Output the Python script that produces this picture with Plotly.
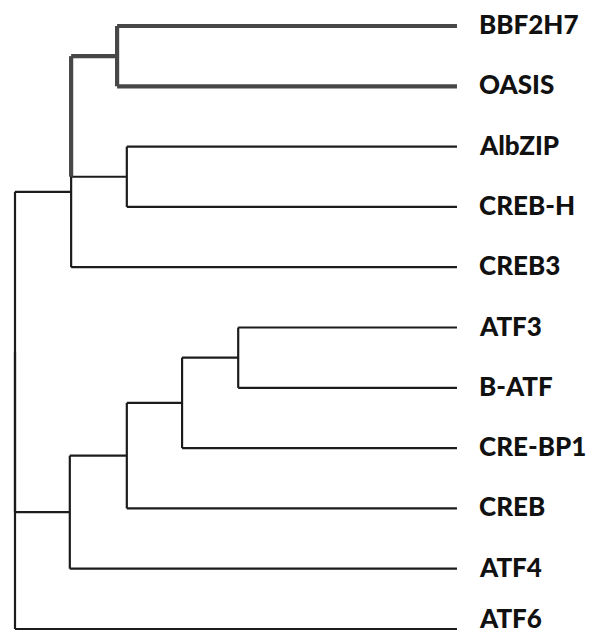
import plotly.graph_objects as go

# ---- data -------------------------------------------------------------
leaves = ["BBF2H7", "OASIS", "AlbZIP", "CREB-H", "CREB3",
          "ATF3", "B-ATF", "CRE-BP1", "CREB", "ATF4", "ATF6"]
leaf_height = 100.0

# merges: (node, left child, right child, merge height from root)
merge_nodes = ["n_bo", "n_ac", "n_top4", "n_top", "n_ab", "n_abc", "n_abcc", "n_atf", "n_in", "n_root"]
merge_left = ["BBF2H7", "AlbZIP", "n_bo", "n_top4", "ATF3", "n_ab", "n_abc", "n_abcc", "n_top", "n_in"]
merge_right = ["OASIS", "CREB-H", "n_ac", "CREB3", "B-ATF", "CRE-BP1", "CREB", "ATF4", "n_atf", "ATF6"]
merge_height = [23.1, 25.3, 12.7, 12.7, 50.5, 37.8, 25.3, 12.4, 0.0, 0.0]

# highlighted clade (drawn thicker)
thick_nodes = {"n_bo", "n_top4"}
thick_edges = {"BBF2H7", "OASIS", "n_bo"}

# ---- build dendrogram geometry ------------------------------------------
pos_y = {name: float(i) for i, name in enumerate(leaves)}
pos_x = {name: leaf_height for name in leaves}
thin_x, thin_y, thick_x, thick_y = [], [], [], []

for node, l, r, h in zip(merge_nodes, merge_left, merge_right, merge_height):
    pos_x[node] = h
    pos_y[node] = (pos_y[l] + pos_y[r]) / 2.0
    tx, ty = (thick_x, thick_y) if node in thick_nodes else (thin_x, thin_y)
    tx += [h, h, None]
    ty += [pos_y[l], pos_y[r], None]
    for c in (l, r):
        tx, ty = (thick_x, thick_y) if c in thick_edges else (thin_x, thin_y)
        tx += [h, pos_x[c], None]
        ty += [pos_y[c], pos_y[c], None]

fig = go.Figure()
fig.add_trace(go.Scatter(x=thin_x, y=thin_y, mode="lines",
                         line=dict(color="#1c1c1c", width=2.2),
                         hoverinfo="skip", showlegend=False))
fig.add_trace(go.Scatter(x=thick_x, y=thick_y, mode="lines",
                         line=dict(color="#474747", width=4.2),
                         hoverinfo="skip", showlegend=False))

for i, name in enumerate(leaves):
    last = i == len(leaves) - 1
    fig.add_annotation(x=leaf_height, y=pos_y[name], text=name,
                       xanchor="left", yanchor="middle", xshift=21,
                       yshift=11 if last else 2,
                       showarrow=False, borderpad=0,
                       font=dict(family="Lato, Liberation Sans, Arial, sans-serif",
                                 size=26, color="#111111", weight=900))

fig.update_layout(
    width=586, height=625,
    margin=dict(l=0, r=0, t=0, b=0),
    paper_bgcolor="white", plot_bgcolor="white",
    xaxis=dict(range=[-1.584, 131.0], visible=False, fixedrange=True),
    yaxis=dict(range=[10.066, -0.2985], visible=False, fixedrange=True),
)

fig.write_html("out.html")
